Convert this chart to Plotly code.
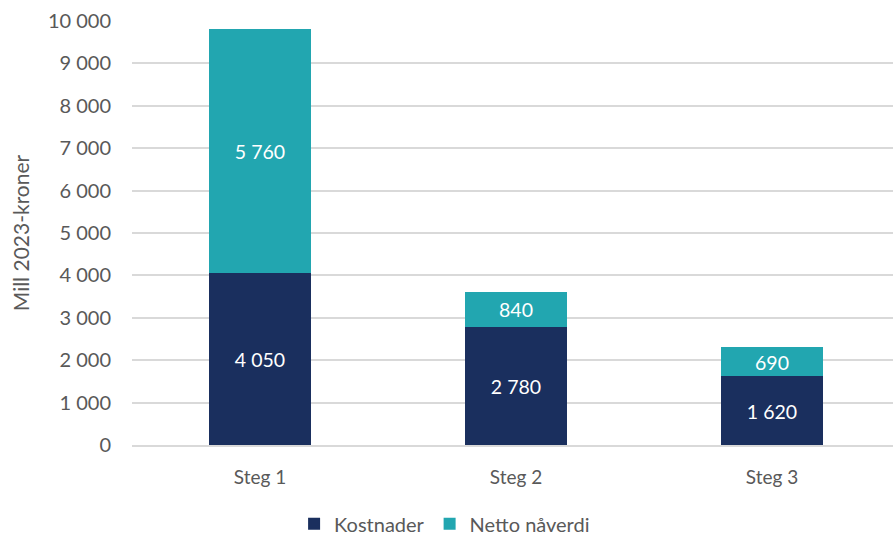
import plotly.graph_objects as go

categories = ["Steg 1", "Steg 2", "Steg 3"]
kostnader = [4050, 2780, 1620]
netto_naverdi = [5760, 840, 690]

navy = "#1A2F5E"
teal = "#22A6B0"
grey = "#595959"
font_family = "Lato, 'Open Sans', sans-serif"

fig = go.Figure()
for name, vals, col in [("Kostnader", kostnader, navy), ("Netto nåverdi", netto_naverdi, teal)]:
    fig.add_trace(go.Bar(
        name=name, x=categories, y=vals, marker_color=col,
        marker_line_width=0, width=0.402,
        texttemplate="%{y:,.0f}", textposition="inside", insidetextanchor="middle",
        textfont=dict(color="white", size=21, family=font_family),
    ))

fig.update_layout(
    barmode="stack",
    width=893, height=537,
    margin=dict(l=132, r=0, t=21, b=92, autoexpand=False),
    paper_bgcolor="white", plot_bgcolor="white",
    separators=", ",
    font=dict(family=font_family, color=grey, size=19),
    uniformtext=dict(minsize=10, mode="show"),
    legend=dict(orientation="h", x=0.213, xanchor="left", y=-0.186, yanchor="middle",
                font=dict(size=20, color=grey), traceorder="normal",
                itemwidth=30, tracegroupgap=0),
    showlegend=True,
)
fig.update_xaxes(
    range=[-0.5, 2.4727], showgrid=False, showline=True, linecolor="#D9D9D9",
    linewidth=1.5, ticks="", ticklabelstandoff=14, tickfont=dict(size=19, color=grey),
)
fig.update_yaxes(
    range=[0, 10000], dtick=1000, tickformat=",.0f", showgrid=True,
    gridcolor="#D9D9D9", gridwidth=1.5, zeroline=False, showline=False,
    ticklabelstandoff=20, tickfont=dict(size=20, color=grey),
    title=dict(text="Mill 2023-kroner", font=dict(size=21, color=grey), standoff=12),
)

fig.write_html("out.html")
